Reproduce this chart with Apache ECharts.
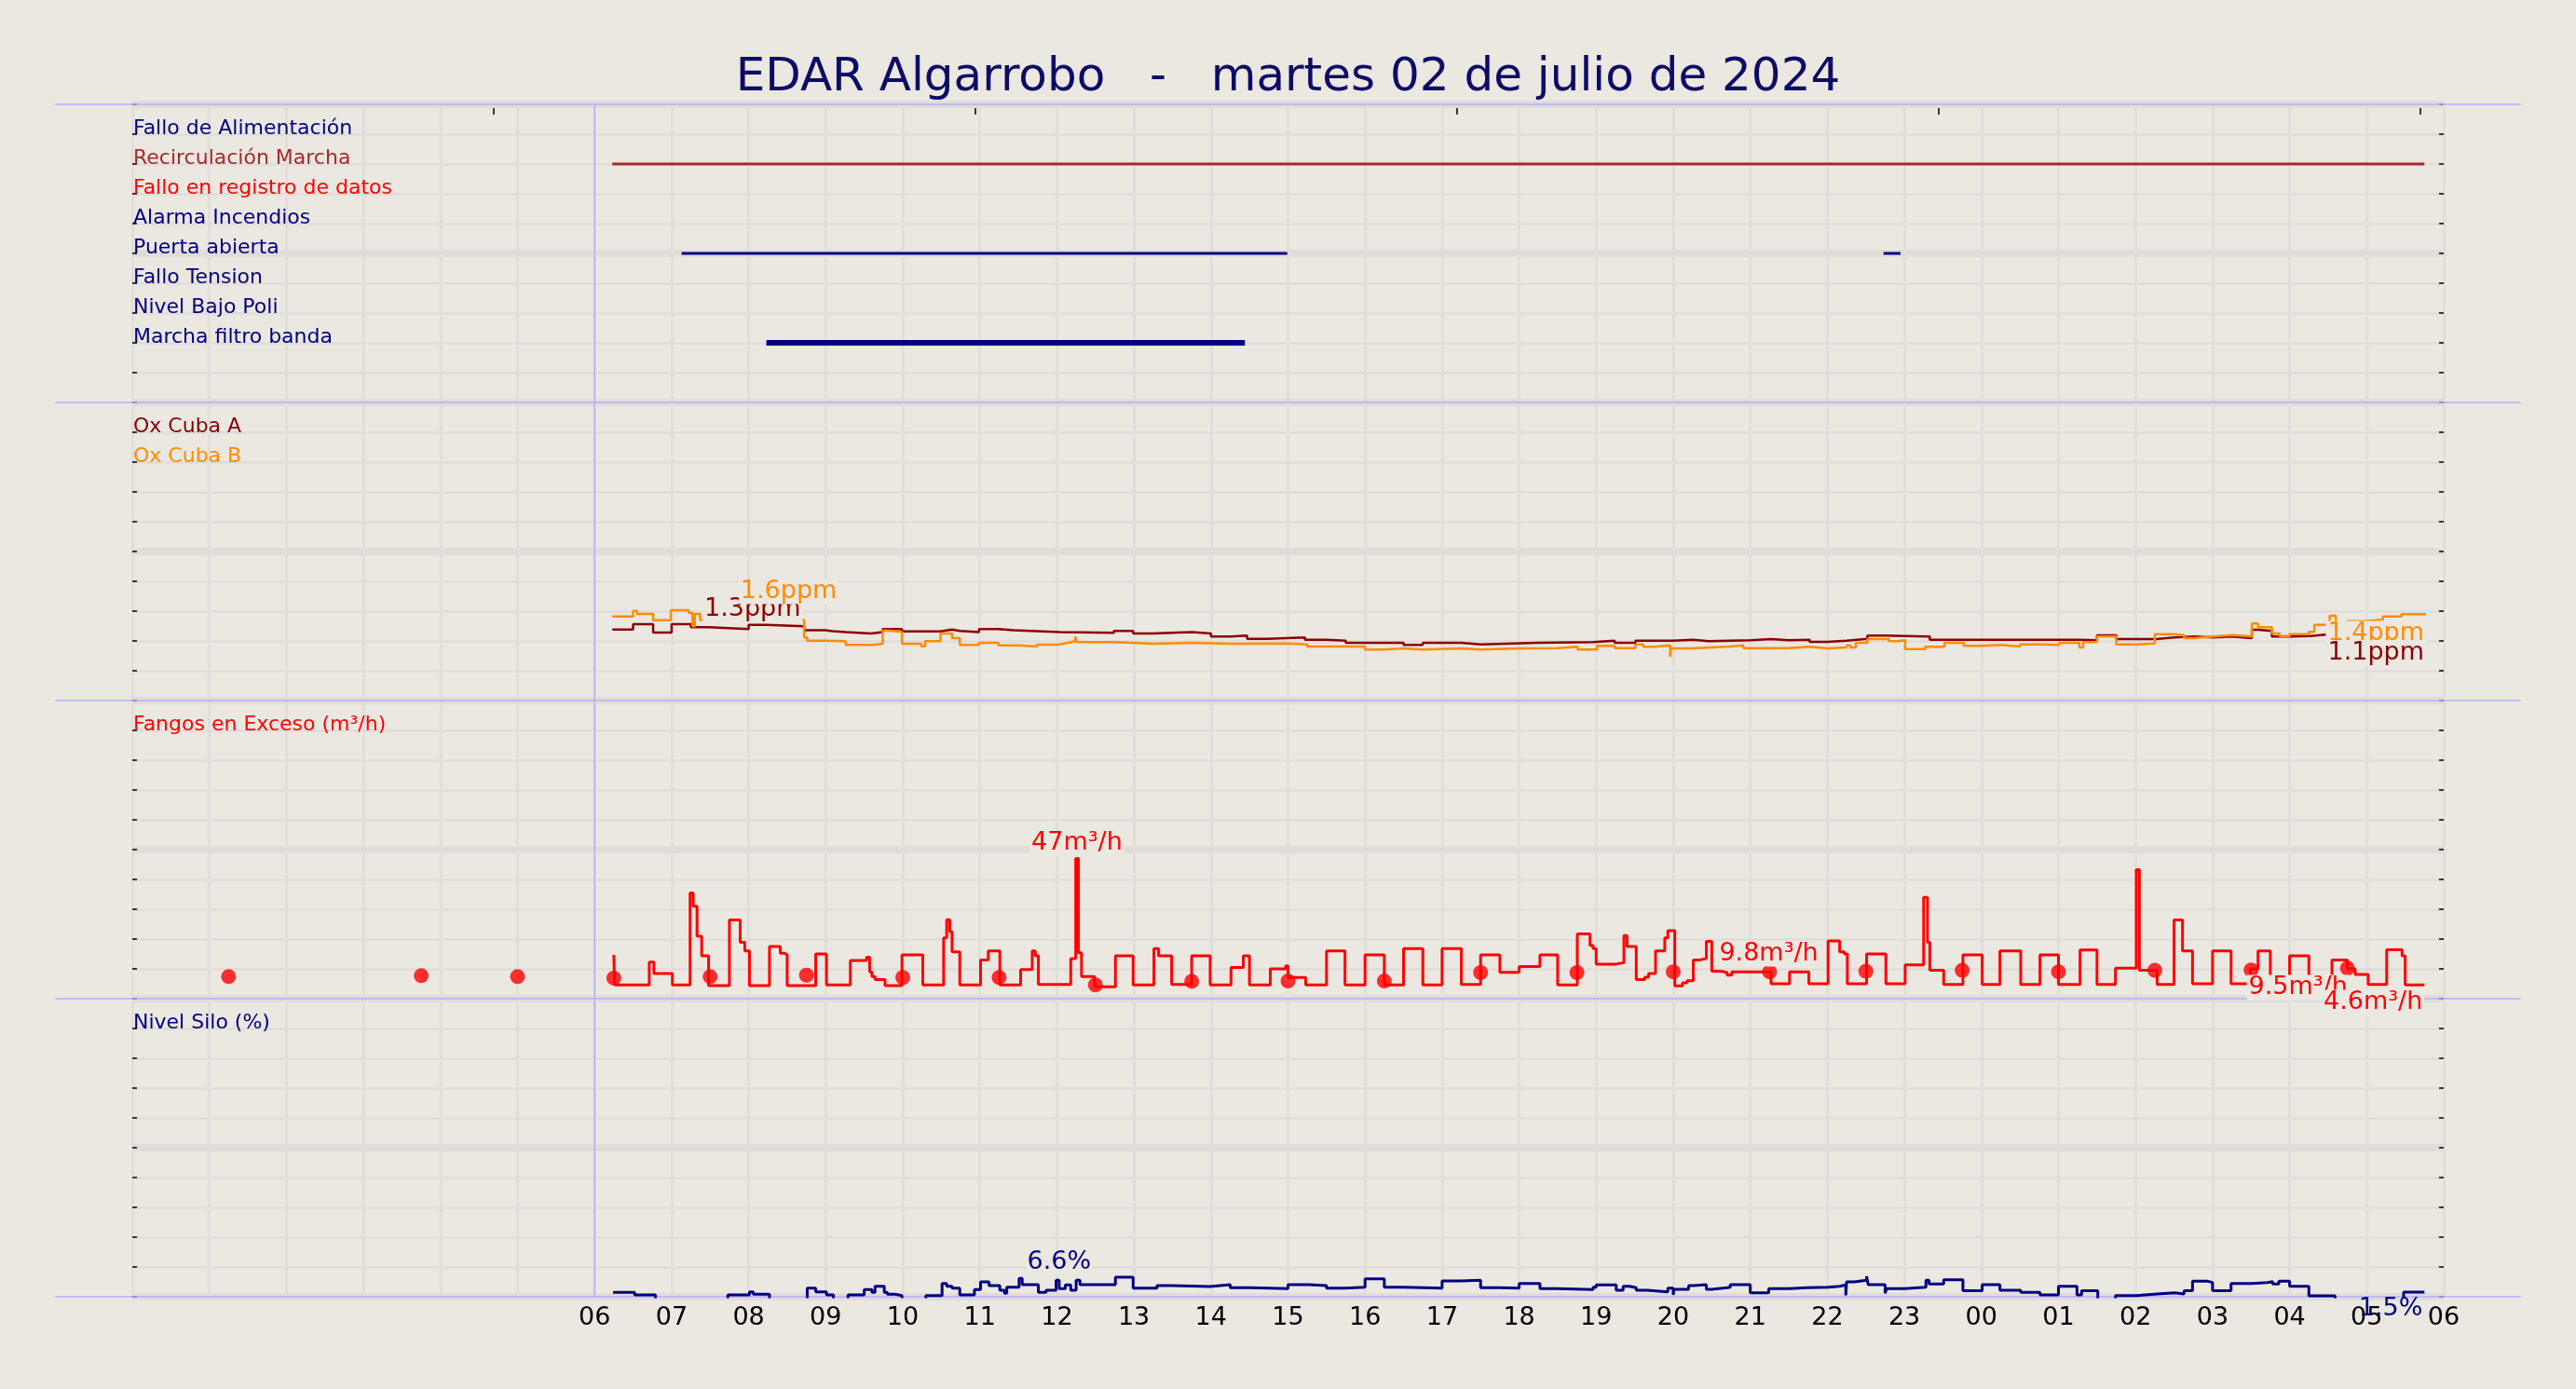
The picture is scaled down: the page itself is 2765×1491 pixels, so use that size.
<!DOCTYPE html>
<html><head><meta charset="utf-8">
<script src="https://cdn.jsdelivr.net/npm/echarts@6/dist/echarts.min.js"></script>
<style>html,body{margin:0;padding:0;background:#ebe7e1;} #c{width:2765px;height:1491px;}</style>
</head><body><div id="c"></div>
<script>
const BG = '#ebe7e1';
const GRIDC = '#e1dcda';
const BLUE = '#b0b0f8';
const FONT = 'DejaVu Sans';
const titleText = 'EDAR Algarrobo   -   martes 02 de julio de 2024';

const statusNames = ['Fallo de Alimentación','Recirculación Marcha','Fallo en registro de datos','Alarma Incendios','Puerta abierta','Fallo Tension','Nivel Bajo Poli','Marcha filtro banda'];
const statusColors = ['#000080','#a52a2a','#ff0000','#000080','#000080','#000080','#000080','#000080'];
const recirculacionSegs = [[6.23, 29.75]];
const puertaSegs = [[7.13, 14.99], [22.73, 22.95]];
const filtroSegs = [[8.23, 14.44]];

const xLabels = ['06','07','08','09','10','11','12','13','14','15','16','17','18','19','20','21','22','23','00','01','02','03','04','05','06'];
const topTickHours = [4.69, 10.94, 17.19, 23.44, 29.69];

const oxA = [[6.23,1.19],[6.50,1.28],[6.76,1.14],[7.00,1.28],[7.25,1.23],[7.48,1.20],[8.00,1.27],[8.23,1.245],[8.72,1.18],[8.99,1.165],[9.09,1.15],[9.26,1.125],[9.59,1.15],[9.74,1.20],[9.99,1.16],[10.49,1.19],[10.64,1.167],[10.74,1.15],[10.99,1.20],[11.24,1.18],[11.44,1.15],[12.04,1.135],[12.74,1.167],[12.99,1.125],[13.24,1.15],[13.75,1.125],[14.00,1.073],[14.25,1.089],[14.47,1.036],[14.73,1.057],[15.22,1.021],[15.50,1.005],[15.75,0.969],[16.50,0.932],[16.75,0.969],[17.25,0.943],[17.50,0.969],[18.23,0.979],[18.96,1.005],[19.24,0.969],[19.51,1.005],[19.99,1.021],[20.26,0.995],[20.46,1.010],[21.01,1.031],[21.27,1.010],[21.50,1.021],[21.77,0.985],[22.00,1.005],[22.25,1.036],[22.52,1.089],[22.77,1.083],[23.01,1.073],[23.33,1.021],[25.27,1.010],[25.50,1.094],[25.75,1.031],[26.27,1.057],[26.50,1.073],[26.77,1.057],[27.01,1.073],[27.25,1.047],[27.51,1.188],[27.59,1.167],[27.77,1.073],[28.00,1.083],[28.27,1.109],[28.50,1.151],[28.60,1.115],[29.77,1.115]];

const oxB = [[6.23,1.41],[6.50,1.505],[6.55,1.453],[6.76,1.349],[6.99,1.516],[7.22,1.474],[7.27,1.245],[7.30,1.453],[7.37,1.35],[8.72,1.057],[8.76,1.005],[8.99,0.995],[9.26,0.932],[9.62,0.953],[9.74,1.177],[9.79,1.151],[9.99,0.953],[10.24,0.911],[10.29,0.995],[10.49,1.125],[10.64,1.047],[10.74,0.932],[10.99,0.969],[11.24,0.927],[11.51,0.906],[11.74,0.938],[12.02,0.969],[12.14,0.995],[12.24,1.073],[12.26,0.979],[12.74,0.969],[12.99,0.953],[13.24,0.969],[13.75,0.953],[14.25,0.958],[15.00,0.943],[15.25,0.906],[16.00,0.854],[16.25,0.875],[16.50,0.854],[16.75,0.875],[17.25,0.854],[17.50,0.875],[18.00,0.880],[18.50,0.901],[18.76,0.854],[19.01,0.917],[19.24,0.880],[19.51,0.943],[19.61,0.901],[19.76,0.927],[19.96,0.734],[19.97,0.875],[20.24,0.906],[20.74,0.927],[20.91,0.880],[21.50,0.901],[21.77,0.875],[22.00,0.891],[22.25,0.927],[22.30,0.891],[22.37,0.969],[22.52,1.031],[22.80,0.995],[22.90,1.010],[23.01,0.865],[23.27,0.901],[23.52,0.969],[23.77,0.917],[24.01,0.932],[24.25,0.906],[24.50,0.943],[24.77,0.932],[25.01,0.969],[25.27,0.891],[25.32,0.979],[25.50,1.073],[25.75,0.943],[26.01,0.958],[26.25,1.115],[26.50,1.099],[26.63,1.047],[26.77,1.073],[27.01,1.099],[27.25,1.073],[27.51,1.292],[27.59,1.229],[27.77,1.125],[27.87,1.083],[28.00,1.115],[28.25,1.151],[28.32,1.271],[28.52,1.422],[28.60,1.245],[28.75,1.333],[29.00,1.359],[29.21,1.411],[29.45,1.448],[29.77,1.448]];

const fangos = [[6.25,14.7],[6.26,4.6],[6.71,12.3],[6.77,8.4],[7.01,4.6],[7.24,35.5],[7.28,31.0],[7.33,20.9],[7.39,14.4],[7.48,4.4],[7.75,26.4],[7.89,18.9],[7.95,16.0],[8.01,4.4],[8.27,17.5],[8.41,15.2],[8.47,14.7],[8.50,4.4],[8.87,15.0],[9.01,4.6],[9.32,12.8],[9.53,13.9],[9.57,9.0],[9.60,7.4],[9.64,6.4],[9.77,4.4],[9.99,14.7],[10.26,4.6],[10.53,20.4],[10.57,26.5],[10.61,22.5],[10.64,15.7],[10.74,4.6],[11.01,13.0],[11.11,16.0],[11.26,4.6],[11.53,9.8],[11.68,16.0],[11.72,14.4],[11.76,4.8],[12.18,13.4],[12.245,47],[12.28,15.4],[12.32,7.4],[12.49,4.0],[12.76,14.4],[12.99,4.6],[13.26,16.8],[13.32,14.4],[13.49,4.8],[13.75,14.4],[13.99,4.6],[14.26,10.5],[14.42,14.4],[14.50,4.6],[14.77,10.0],[14.97,11.0],[15.00,7.1],[15.23,4.6],[15.50,16.0],[15.74,4.6],[16.00,14.7],[16.25,4.6],[16.50,16.8],[16.75,4.6],[17.00,16.8],[17.25,4.8],[17.50,14.7],[17.75,8.8],[18.00,10.8],[18.27,14.7],[18.50,4.6],[18.755,21.7],[18.92,17.8],[18.96,16.8],[19.00,11.6],[19.26,12.1],[19.36,21.2],[19.40,17.5],[19.52,6.4],[19.63,7.2],[19.68,8.4],[19.77,16.0],[19.89,20.4],[19.93,22.8],[20.02,4.3],[20.12,5.3],[20.18,6.0],[20.26,13.0],[20.35,13.5],[20.43,19.2],[20.50,9.2],[20.62,8.75],[20.70,7.9],[20.76,9.0],[21.27,5.0],[21.51,9.0],[21.76,5.0],[22.01,19.4],[22.16,15.7],[22.22,15.0],[22.26,5.0],[22.51,15.0],[22.76,5.0],[23.01,11.3],[23.25,34.0],[23.30,18.9],[23.33,9.5],[23.51,4.8],[23.76,14.7],[24.01,4.8],[24.24,16.0],[24.51,4.8],[24.76,14.7],[25.00,4.8],[25.28,16.3],[25.50,4.8],[25.74,10.2],[26.01,43.3],[26.05,9.5],[26.28,4.8],[26.50,26.4],[26.61,16.0],[26.74,5.0],[27.00,16.0],[27.24,5.0],[27.49,10.0],[27.59,16.0],[27.75,5.0],[28.00,14.4],[28.25,5.0],[28.55,13.0],[28.75,10.0],[28.85,8.1],[29.02,4.8],[29.26,16.4],[29.46,14.4],[29.50,4.6],[29.75,4.6]];

const fangosDots = [[1.25,7.4],[3.75,7.7],[5.0,7.4],[6.25,6.9],[7.5,7.4],[8.75,7.9],[10.0,7.1],[11.25,7.1],[12.5,4.6],[13.75,5.8],[15.0,5.9],[16.25,5.9],[17.5,8.75],[18.75,8.75],[20.0,9.0],[21.25,9.0],[22.5,9.2],[23.75,9.5],[25.0,9.0],[26.25,9.5],[27.5,9.6],[28.75,10.2]];

const silo = [[6.24,1.46],[6.52,0.6],[6.79,-2],[7.73,0.63],[8.01,1.67],[8.06,0.83],[8.27,-2],[8.76,2.9],[8.87,1.67],[9.01,0.63],[9.10,-2],[9.29,0.63],[9.50,2.4],[9.60,1.46],[9.64,3.54],[9.76,1.46],[9.80,0.83],[9.90,0.42],[9.99,-2],[10.30,0.42],[10.51,4.48],[10.57,3.54],[10.64,2.9],[10.74,0.63],[10.93,2.4],[11.01,5.0],[11.12,3.75],[11.26,2.19],[11.32,1.15],[11.35,3.23],[11.51,6.15],[11.55,4.06],[11.76,1.46],[11.86,2.19],[11.99,5.52],[12.03,2.7],[12.11,3.96],[12.18,2.19],[12.25,5.52],[12.30,4.06],[12.76,6.6],[12.99,2.9],[13.30,3.75],[13.49,3.44],[13.99,4.06],[14.25,3.02],[14.50,2.71],[15.00,4.06],[15.27,3.75],[15.50,2.9],[15.74,3.23],[16.00,6.04],[16.25,3.23],[16.50,2.9],[17.00,5.31],[17.25,5.52],[17.50,3.02],[17.75,2.9],[18.00,4.48],[18.27,2.71],[18.50,2.4],[18.96,3.23],[19.00,3.96],[19.26,2.19],[19.35,3.54],[19.43,3.02],[19.52,2.19],[19.66,1.67],[19.93,2.9],[20.00,0.63],[20.01,2.5],[20.20,3.75],[20.26,4.06],[20.43,2.5],[20.50,3.02],[20.70,3.23],[20.74,4.06],[21.00,1.35],[21.24,2.71],[21.51,3.02],[21.74,3.23],[22.01,3.54],[22.16,3.96],[22.24,0.5],[22.25,5.0],[22.35,5.52],[22.51,6.9],[22.53,4.06],[22.75,1.15],[22.77,2.71],[23.01,3.23],[23.28,5.52],[23.32,4.27],[23.51,5.73],[23.76,2.0],[24.01,4.06],[24.24,2.19],[24.51,1.46],[24.76,0.63],[25.00,3.54],[25.24,0.63],[25.30,2.0],[25.51,-2],[25.74,0.42],[26.01,0.94],[26.28,1.35],[26.51,0.94],[26.63,2.0],[26.74,5.21],[26.94,4.79],[27.00,2.0],[27.24,4.48],[27.51,4.79],[27.71,5.1],[27.78,4.27],[27.86,5.21],[28.00,3.54],[28.25,0.3],[28.59,-2],[29.48,1.56],[29.75,1.56]];

// annotation texts: panel, hour, value, text, colour, align, boxed
const annotations = [
  [1, 8.05, 1.53, '1.3ppm', '#8b0000', 'center', true],
  [1, 8.52, 1.83, '1.6ppm', '#ff8c00', 'center', true],
  [1, 29.77, 1.125, '1.4ppm', '#ff8c00', 'right', true],
  [1, 29.77, 0.80, '1.1ppm', '#8b0000', 'right', true],
  [2, 12.26, 52.2, '47m³/h', '#ff0000', 'center', true],
  [2, 21.24, 15.0, '9.8m³/h', '#ff0000', 'center', true],
  [2, 28.11, 3.75, '9.5m³/h', '#ff0000', 'center', true],
  [2, 29.75, -1.25, '4.6m³/h', '#ff0000', 'right', true],
  [3, 12.03, 11.6, '6.6%', '#000080', 'center', true],
  [3, 29.75, -4.06, '1.5%', '#000080', 'right', false]
];

const panels = [
  {min: 0, max: 10, interval: 1, inverse: true},
  {min: 0, max: 5, interval: 0.5},
  {min: 0, max: 100, interval: 10},
  {min: 0, max: 100, interval: 10}
];
const panelLabels = [
  null,
  [[4.5, 'Ox Cuba A', '#8b0000'], [4.0, 'Ox Cuba B', '#ff8c00']],
  [[90, 'Fangos en Exceso (m³/h)', '#ff0000']],
  [[90, 'Nivel Silo (%)', '#000080']]
];

function labelFor(p, v) {
  if (p === 0) {
    const k = Math.round(v);
    if (Math.abs(v - k) < 1e-6 && k >= 1 && k <= 8) return [statusNames[k-1], statusColors[k-1]];
    return ['', '#000'];
  }
  for (const l of panelLabels[p]) if (Math.abs(l[0] - v) < 1e-6) return [l[1], l[2]];
  return ['', '#000'];
}

const grids = [], xAxes = [], yAxes = [], series = [];
for (let p = 0; p < 4; p++) {
  grids.push({left: 142, width: 2481, top: 112 + p * 320, height: 320, containLabel: false});
  xAxes.push({
    type: 'value', gridIndex: p, min: 0, max: 30, interval: 1,
    axisLine: {show: false, onZero: false}, axisTick: {show: false},
    axisLabel: {show: p === 3, margin: 9, fontSize: 27, color: '#000', fontFamily: FONT,
      formatter: v => (v >= 6 && v <= 30) ? xLabels[v - 6] : ''},
    splitLine: {show: true, lineStyle: {color: GRIDC, width: 2.5}}
  });
}
xAxes.push({
  type: 'value', gridIndex: 0, min: 0, max: 30, position: 'top', offset: -4,
  axisLine: {show: false, onZero: false},
  axisTick: {show: true, inside: true, length: 7, customValues: topTickHours, lineStyle: {color: '#000', width: 1.5}},
  axisLabel: {show: false}, splitLine: {show: false}
});
for (let p = 0; p < 4; p++) {
  const c = panels[p];
  yAxes.push({
    type: 'value', gridIndex: p, min: c.min, max: c.max, interval: c.interval, inverse: !!c.inverse, position: 'left',
    axisLine: {show: false},
    axisTick: {show: true, inside: true, length: 5, lineStyle: {color: '#000', width: 1.5}},
    axisLabel: {show: true, inside: true, margin: 1, fontSize: 22, fontFamily: FONT, lineHeight: 12,
      verticalAlign: 'bottom', align: 'left',
      formatter: v => labelFor(p, v)[0], color: v => labelFor(p, v)[1]},
    splitLine: {show: true, lineStyle: {color: GRIDC, width: 2.5}}
  });
}
for (let p = 0; p < 4; p++) {
  const c = panels[p];
  yAxes.push({
    type: 'value', gridIndex: p, min: c.min, max: c.max, interval: (c.max - c.min) / 2, inverse: !!c.inverse, position: 'left',
    axisLine: {show: false}, axisTick: {show: false}, axisLabel: {show: false},
    splitLine: {show: true, lineStyle: {color: GRIDC, width: 8}}
  });
}
for (let p = 0; p < 4; p++) {
  const c = panels[p];
  yAxes.push({
    type: 'value', gridIndex: p, min: c.min, max: c.max, interval: c.interval, inverse: !!c.inverse, position: 'right',
    axisLine: {show: false},
    axisTick: {show: true, inside: true, length: 5, lineStyle: {color: '#000', width: 1.5}},
    axisLabel: {show: false}, splitLine: {show: false}
  });
}

function addLine(p, data, color, width, step) {
  series.push({type: 'line', xAxisIndex: p, yAxisIndex: p, data: data, step: step ? 'end' : false,
    showSymbol: false, symbol: 'none', lineStyle: {color: color, width: width}, itemStyle: {color: color},
    animation: false, silent: true, z: 3});
}
recirculacionSegs.forEach(s => addLine(0, [[s[0], 2], [s[1], 2]], '#a52a2a', 3, false));
puertaSegs.forEach(s => addLine(0, [[s[0], 5], [s[1], 5]], '#000080', 3, false));
filtroSegs.forEach(s => addLine(0, [[s[0], 8], [s[1], 8]], '#000080', 6, false));
addLine(1, oxA, '#8b0000', 2.5, true);
addLine(1, oxB, '#ff8c00', 2.5, true);
addLine(2, fangos, '#ff0000', 3, true);
series.push({type: 'scatter', xAxisIndex: 2, yAxisIndex: 2, data: fangosDots, symbolSize: 16,
  itemStyle: {color: '#ff0000'}, animation: false, silent: true, z: 4});
addLine(3, silo, '#000080', 3, true);

const option = {
  backgroundColor: BG,
  animation: false,
  textStyle: {fontFamily: FONT},
  title: {text: titleText, left: 'center', top: 59, padding: 0,
    textStyle: {fontSize: 50, fontWeight: 'normal', color: '#0c0c66', fontFamily: FONT}},
  grid: grids, xAxis: xAxes, yAxis: yAxes, series: series
};

const chart = echarts.init(document.getElementById('c'), null, {renderer: 'canvas'});
chart.setOption(option);

function P(i, x, y) { return chart.convertToPixel({xAxisIndex: i, yAxisIndex: i}, [x, y]); }
const g = [];
const yb = [P(0, 0, 0)[1], P(0, 0, 10)[1], P(1, 0, 0)[1], P(2, 0, 0)[1], P(3, 0, 0)[1]];
const xl = P(0, -1, 0)[0], xr = P(0, 31, 0)[0];
yb.forEach(y => g.push({type: 'line', silent: true, z: 1, shape: {x1: xl, y1: y, x2: xr, y2: y}, style: {stroke: BLUE, lineWidth: 1.5}}));
const x6 = P(0, 6, 0)[0];
g.push({type: 'line', silent: true, z: 1, shape: {x1: x6, y1: yb[0], x2: x6, y2: yb[4]}, style: {stroke: BLUE, lineWidth: 1.5}});
annotations.forEach((a, i) => {
  const pt = P(a[0], a[1], a[2]);
  const st = {text: a[3], fill: a[4], font: '27px "DejaVu Sans"', align: a[5], verticalAlign: 'middle', padding: [0, 2]};
  if (a[6]) st.backgroundColor = BG;
  g.push({type: 'text', silent: true, z: 20 + i, x: pt[0], y: pt[1], style: st});
});
chart.setOption({graphic: g});
</script></body></html>
